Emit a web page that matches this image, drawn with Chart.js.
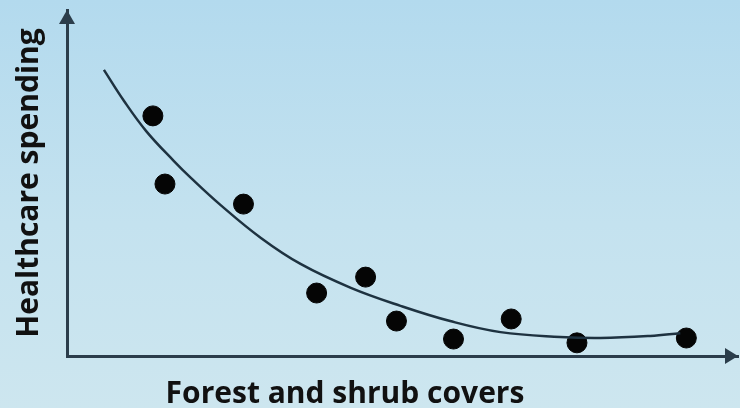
<!DOCTYPE html>
<html>
<head>
<meta charset="utf-8">
<script src="https://cdn.jsdelivr.net/npm/chart.js@4"></script>
<style>
  html, body { margin: 0; padding: 0; }
  body {
    width: 740px; height: 408px; overflow: hidden;
    background: linear-gradient(180deg, #b3daee 0%, #c4e2ef 55%, #cde6ef 100%);
  }
  #wrap { position: relative; width: 740px; height: 408px; }
</style>
</head>
<body>
<div id="wrap"><canvas id="chart" width="740" height="408"></canvas></div>
<script>
// observed points (forest cover vs healthcare spending, arbitrary units 0-100)
const pointX = [12.8, 14.6, 26.3, 37.2, 44.5, 49.1, 57.6, 66.2, 76.0, 92.3];
const pointY = [69.4, 49.7, 43.9, 18.2, 22.8, 10.1, 4.9, 10.7, 3.8, 5.2];

// fitted trend curve
const curveX = [5.5, 8.5, 11.8, 15.9, 18.5, 22.9, 28.9, 34.8, 42.3, 49.7, 57.1, 64.6, 73.5, 79.5, 86.9, 91.4];
const curveY = [82.7, 73.7, 65.0, 56.4, 51.4, 43.6, 34.1, 26.6, 19.7, 14.5, 10.1, 6.9, 5.5, 5.2, 5.8, 6.6];

const xTitle = 'Forest and shrub covers';
const yTitle = 'Healthcare spending';

const axisColor = '#2b3d4b';

// arrowheads + x axis title
const decor = {
    id: 'decor',
    afterDraw(chart) {
        const ctx = chart.ctx;
        const a = chart.chartArea;
        ctx.save();
        ctx.fillStyle = axisColor;
        // y arrow
        ctx.beginPath();
        ctx.moveTo(a.left, a.top);
        ctx.lineTo(a.left - 8, a.top + 14);
        ctx.lineTo(a.left + 8, a.top + 14);
        ctx.closePath();
        ctx.fill();
        // x arrow
        ctx.beginPath();
        ctx.moveTo(a.right, a.bottom);
        ctx.lineTo(a.right - 13, a.bottom - 8);
        ctx.lineTo(a.right - 13, a.bottom + 8);
        ctx.closePath();
        ctx.fill();
        // x title
        ctx.fillStyle = '#111111';
        ctx.font = 'bold 30px "Open Sans"';
        ctx.textAlign = 'center';
        ctx.textBaseline = 'alphabetic';
        ctx.fillText(xTitle, 345, 403);
        ctx.restore();
    }
};

new Chart(document.getElementById('chart').getContext('2d'), {
    type: 'scatter',
    data: {
        datasets: [
            {
                type: 'line',
                label: 'trend',
                data: curveX.map((x, i) => ({x: x, y: curveY[i]})),
                borderColor: '#1e3240',
                borderWidth: 2.5,
                pointRadius: 0,
                tension: 0.4,
                fill: false
            },
            {
                label: 'points',
                data: pointX.map((x, i) => ({x: x, y: pointY[i]})),
                backgroundColor: '#050505',
                borderColor: '#050505',
                pointRadius: 10,
                pointHoverRadius: 10
            }
        ]
    },
    options: {
        responsive: false,
        animation: false,
        layout: { autoPadding: false, padding: { left: 11, right: 2, top: 10, bottom: 52 } },
        plugins: { legend: { display: false }, tooltip: { enabled: false } },
        scales: {
            x: {
                type: 'linear', min: 0, max: 100,
                ticks: { display: false },
                grid: { display: false, drawTicks: false },
                border: { display: true, color: axisColor, width: 3 }
            },
            y: {
                type: 'linear', min: 0, max: 100,
                ticks: { display: false },
                grid: { display: false, drawTicks: false },
                border: { display: true, color: axisColor, width: 3 },
                title: {
                    display: true, text: yTitle, color: '#111111',
                    font: { family: 'Open Sans', size: 30, weight: 'bold' },
                    padding: { top: 0, bottom: 20 }
                }
            }
        }
    },
    plugins: [decor]
});
</script>
</body>
</html>
